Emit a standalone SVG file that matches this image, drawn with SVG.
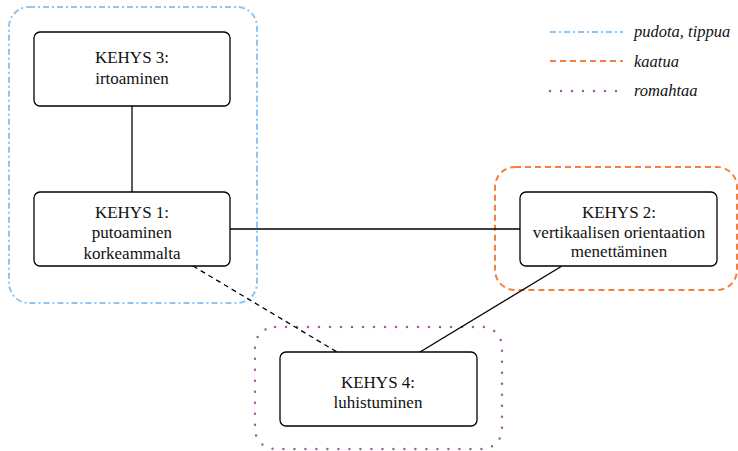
<svg xmlns="http://www.w3.org/2000/svg" width="738" height="451" viewBox="0 0 738 451">
<style>
.node{fill:#fff;stroke:#000;stroke-width:1.3}
.blue{fill:none;stroke:#8ec5f2;stroke-width:2;stroke-dasharray:6 3 2 3}
.orange{fill:none;stroke:#f57f3e;stroke-width:2;stroke-dasharray:6 4}
.purple{fill:none;stroke:#a457a6;stroke-width:2.5;stroke-dasharray:0 11;stroke-linecap:round}
.e{stroke:#000;stroke-width:1.3;fill:none}
</style>
<rect width="738" height="451" fill="#fff"/>
<g id="groups">
<rect class="blue" x="9" y="7" width="248" height="296" rx="20"/>
<rect class="orange" x="495" y="167" width="242" height="123" rx="20"/>
<rect class="purple" x="255" y="327" width="247" height="122" rx="20"/>
</g>
<g id="connectors">
<line class="e" x1="132" y1="106" x2="132" y2="192"/>
<line class="e" x1="230" y1="229" x2="520" y2="229"/>
<line class="e" x1="193" y1="266" x2="337" y2="352" stroke-dasharray="5 4"/>
<line class="e" x1="562" y1="266" x2="420" y2="352"/>
</g>
<g id="node3">
<rect class="node" x="34" y="32" width="196" height="74" rx="6"/>
<text x="132" y="63" font-family="Liberation Serif" font-size="17" fill="#111" text-anchor="middle">KEHYS 3:</text>
<text x="132" y="84" font-family="Liberation Serif" font-size="17" fill="#111" text-anchor="middle">irtoaminen</text>
</g>
<g id="node1">
<rect class="node" x="34" y="192" width="196" height="74" rx="6"/>
<text x="132" y="218" font-family="Liberation Serif" font-size="17" fill="#111" text-anchor="middle">KEHYS 1:</text>
<text x="132" y="238" font-family="Liberation Serif" font-size="17" fill="#111" text-anchor="middle">putoaminen</text>
<text x="132" y="259" font-family="Liberation Serif" font-size="17" fill="#111" text-anchor="middle">korkeammalta</text>
</g>
<g id="node2">
<rect class="node" x="520" y="192" width="197" height="74" rx="6"/>
<text x="619" y="218" font-family="Liberation Serif" font-size="17" fill="#111" text-anchor="middle">KEHYS 2:</text>
<text x="619" y="238" font-family="Liberation Serif" font-size="17" fill="#111" text-anchor="middle">vertikaalisen orientaation</text>
<text x="619" y="257" font-family="Liberation Serif" font-size="17" fill="#111" text-anchor="middle">menettäminen</text>
</g>
<g id="node4">
<rect class="node" x="280" y="352" width="197" height="74" rx="6"/>
<text x="378" y="388" font-family="Liberation Serif" font-size="17" fill="#111" text-anchor="middle">KEHYS 4:</text>
<text x="378" y="408" font-family="Liberation Serif" font-size="17" fill="#111" text-anchor="middle">luhistuminen</text>
</g>
<g id="legend">
<line class="blue" x1="550" y1="32" x2="623" y2="32"/>
<text x="634" y="37" font-family="Liberation Serif" font-size="16.5" font-style="italic" fill="#111">pudota, tippua</text>
<line class="orange" x1="550" y1="61" x2="623" y2="61"/>
<text x="634" y="67" font-family="Liberation Serif" font-size="16.5" font-style="italic" fill="#111">kaatua</text>
<line class="purple" x1="550" y1="91" x2="623" y2="91"/>
<text x="634" y="96" font-family="Liberation Serif" font-size="16.5" font-style="italic" fill="#111">romahtaa</text>
</g>
</svg>
